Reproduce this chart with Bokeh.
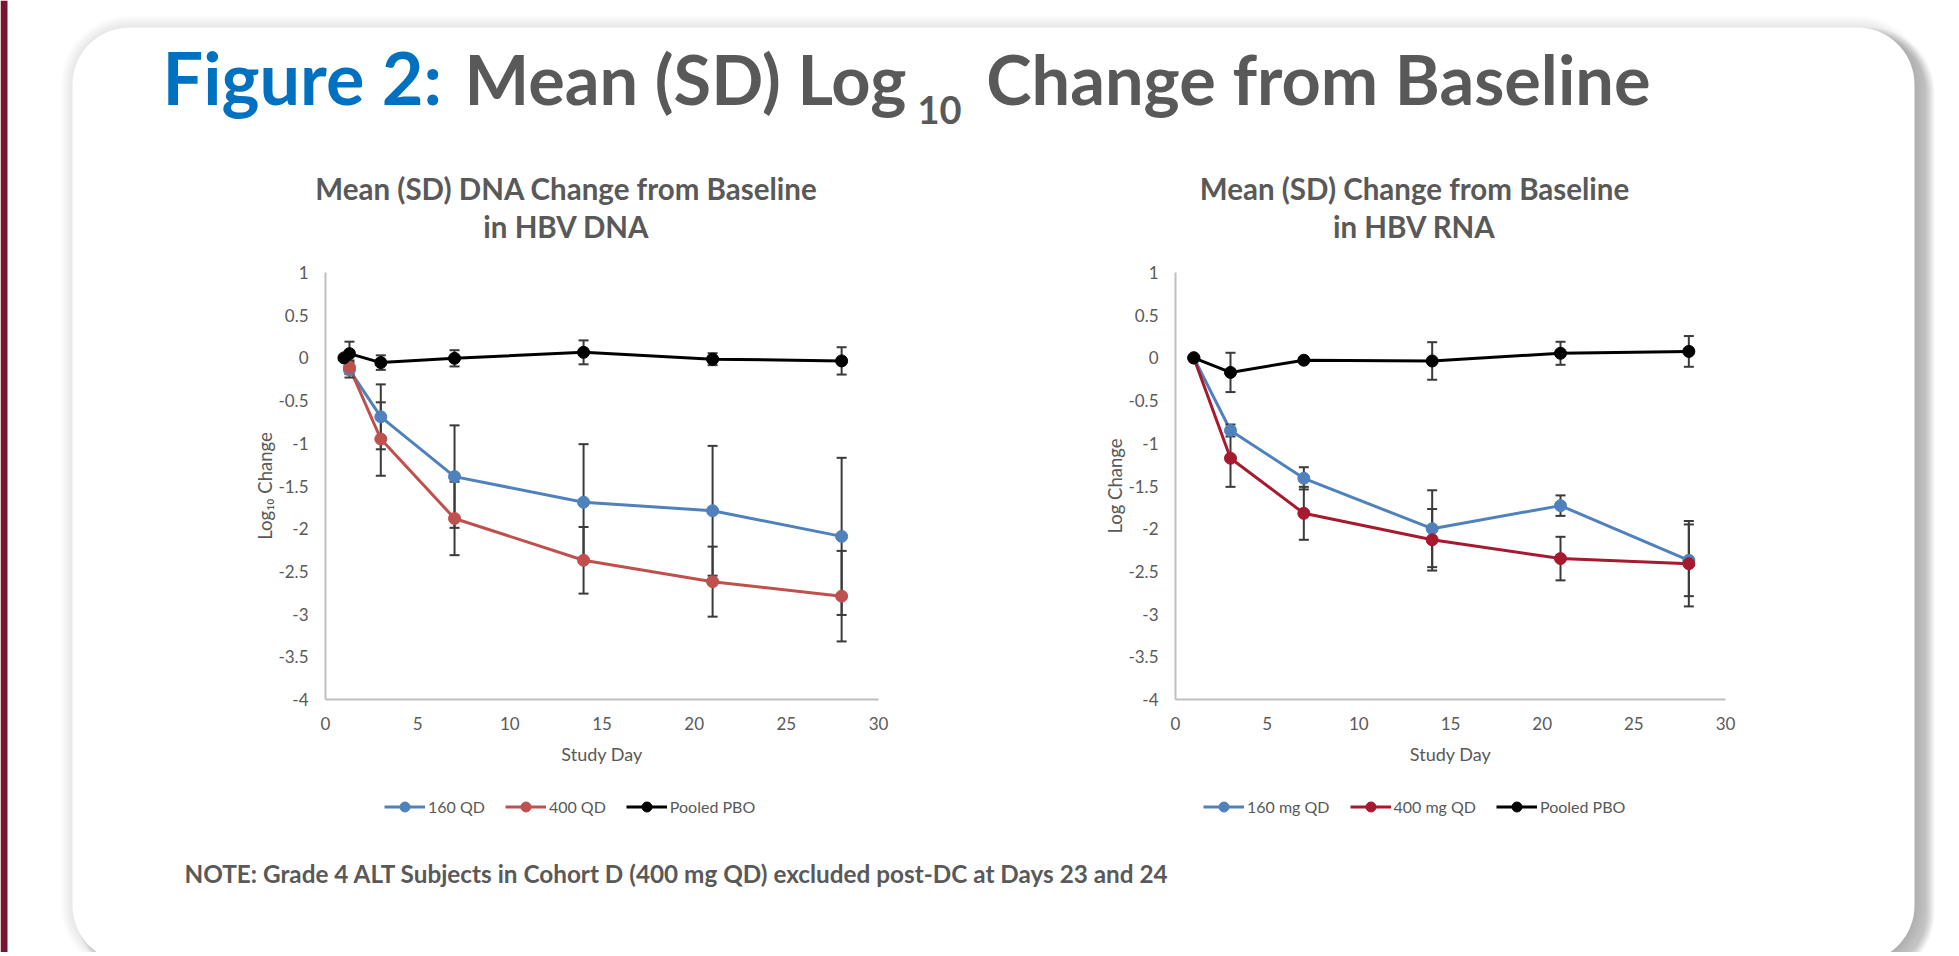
import numpy as np
from bokeh.plotting import figure
from bokeh.models import Range1d, FixedTicker, Legend, LegendItem, Label, LinearAxis
from bokeh.embed import file_html
from bokeh.resources import INLINE
from bokeh.core.properties import value

# ---------------- data ----------------
x_ticks = [0, 5, 10, 15, 20, 25, 30]
x_tick_labels = ["0", "5", "10", "15", "20", "25", "30"]
y_ticks = [1, 0.5, 0, -0.5, -1, -1.5, -2, -2.5, -3, -3.5, -4]
y_tick_labels = ["1", "0.5", "0", "-0.5", "-1", "-1.5", "-2", "-2.5", "-3", "-3.5", "-4"]

# HBV DNA
dna_days_active = [1.3, 3, 7, 14, 21, 28]
dna_160_mean = [-0.14, -0.69, -1.39, -1.69, -1.79, -2.09]
dna_160_sd = [0.09, 0.38, 0.60, 0.68, 0.76, 0.92]
dna_400_mean = [-0.11, -0.95, -1.88, -2.37, -2.62, -2.79]
dna_400_sd = [0.08, 0.43, 0.43, 0.39, 0.41, 0.53]
dna_pbo_days = [1, 1.3, 3, 7, 14, 21, 28]
dna_pbo_mean = [0.0, 0.05, -0.055, -0.005, 0.065, -0.015, -0.035]
dna_pbo_sd = [0.0, 0.14, 0.085, 0.095, 0.14, 0.07, 0.16]
dna_labels = ["160 QD", "400 QD", "Pooled PBO"]

# HBV RNA
rna_days = [1, 3, 7, 14, 21, 28]
rna_160_mean = [0.0, -0.85, -1.41, -2.0, -1.73, -2.37]
rna_160_sd = [0.0, 0.07, 0.13, 0.45, 0.12, 0.42]
rna_400_mean = [0.0, -1.175, -1.82, -2.13, -2.35, -2.41]
rna_400_sd = [0.0, 0.335, 0.31, 0.36, 0.255, 0.5]
rna_pbo_mean = [0.0, -0.17, -0.027, -0.036, 0.054, 0.076]
rna_pbo_sd = [0.0, 0.23, 0.03, 0.22, 0.135, 0.18]
rna_labels = ["160 mg QD", "400 mg QD", "Pooled PBO"]

# ---------------- style / layout ----------------
FONT = "Lato"
GRAY = "#595959"
BLUE = "#4F81BD"
RED_DNA = "#C0504D"
RED_RNA = "#A6192E"
BAR = "#3A3A3A"
MAROON = "#7A1530"

W, H = 1955, 952
PLOT_TOP, PLOT_BOT = 272, 699           # page pixels of y = 1 and y = -4
L_FRAME = (325, 878)                    # page pixels of x = 0 and x = 30, left chart
R_FRAME = (1175, 1725)                  # same, right chart
PL, PR, PT, PB, RAD = 72, 1914, 27, 962, 57

xmin, xmax = x_ticks[0], x_ticks[-1]
ymin, ymax = y_ticks[-1], y_ticks[0]


def xrange_for(frame):
    ppx = (frame[1] - frame[0]) / (xmax - xmin)
    return Range1d(xmin - frame[0] / ppx, xmin + (W - frame[0]) / ppx)


ppy = (PLOT_BOT - PLOT_TOP) / (ymax - ymin)
p = figure(width=W, height=H, x_range=xrange_for(L_FRAME),
           y_range=Range1d(ymax - (H - PLOT_TOP) / ppy, ymax + PLOT_TOP / ppy),
           min_border=0, toolbar_location=None, title=None, output_backend="svg",
           outline_line_color=None, background_fill_color="white", border_fill_color="white")
p.extra_x_ranges = {"r": xrange_for(R_FRAME), "px": Range1d(0, W)}
p.extra_y_ranges = {"py": Range1d(H, 0)}
p.grid.visible = False
PX = dict(x_range_name="px", y_range_name="py")


# ---------------- slide background ----------------
def rrect(l, r, t, b, rad, n=18):
    xs, ys = [], []
    for cx, cy, a0 in ((l + rad, t + rad, np.pi), (r - rad, t + rad, 1.5 * np.pi),
                       (r - rad, b - rad, 0.0), (l + rad, b - rad, 0.5 * np.pi)):
        th = np.linspace(a0, a0 + 0.5 * np.pi, n)
        xs.extend(cx + rad * np.cos(th))
        ys.extend(cy + rad * np.sin(th))
    return xs, ys


p.quad(left=[0], right=[7], top=[0], bottom=[H], fill_color=MAROON, line_color=None, **PX)
for k in range(1, 13):
    xs, ys = rrect(PL - k, PR + k, PT - k, PB + k, RAD + k)
    p.patch(xs, ys, fill_color="black", fill_alpha=0.008, line_color=None, **PX)
for k in range(0, 9):
    xs, ys = rrect(PL + 12 - k, PR + 12 + k, PT + 8 - k, PB + 8 + k, RAD + k)
    p.patch(xs, ys, fill_color="black", fill_alpha=0.026, line_color=None, **PX)
xs, ys = rrect(PL, PR, PT, PB, RAD)
p.patch(xs, ys, fill_color="white", line_color=None, **PX)


def txt(x, y, s, size, color=GRAY, style="bold", align="left"):
    # y is the baseline in page pixels
    p.text(x=[x], y=[y - 0.39 * size], text=[s], text_font=value(FONT), text_font_size=f"{size}px",
           text_font_style=style, text_color=color, text_align=align, text_baseline="middle", **PX)


txt(162, 105, "Figure 2:", 72, color="#0070C0")
txt(906, 105, "Mean (SD) Log", 68.5, align="right")
txt(917, 124, "10", 38)
txt(1650, 105, "Change from Baseline", 68.5, align="right")
txt(566, 200, "Mean (SD) DNA Change from Baseline", 29.5, align="center")
txt(566, 238, "in HBV DNA", 29.5, align="center")
txt(1414, 200, "Mean (SD) Change from Baseline", 29.5, align="center")
txt(1414, 238, "in HBV RNA", 29.5, align="center")
txt(184, 882, "NOTE: Grade 4 ALT Subjects in Cohort D (400 mg QD) excluded post-DC at Days 23 and 24", 24.3)


# ---------------- axes ----------------
def style_axis(ax):
    ax.axis_line_color = "#BFBFBF"
    ax.axis_line_width = 2
    ax.major_tick_in = 0
    ax.major_tick_out = 0
    ax.minor_tick_line_color = None
    ax.major_tick_line_color = None
    ax.major_label_text_font = FONT
    ax.major_label_text_font_size = "17px"
    ax.major_label_text_color = GRAY
    ax.major_label_standoff = 17


def make_axes(xr_name, xaxis=None, yaxis=None):
    if xaxis is None:
        xaxis = LinearAxis(x_range_name=xr_name)
        p.add_layout(xaxis, "below")
    if yaxis is None:
        yaxis = LinearAxis(x_range_name=xr_name)
        p.add_layout(yaxis, "left")
    xaxis.ticker = FixedTicker(ticks=x_ticks)
    xaxis.major_label_overrides = dict(zip(x_ticks, x_tick_labels))
    xaxis.fixed_location = ymin
    xaxis.bounds = (xmin, xmax)
    yaxis.ticker = FixedTicker(ticks=y_ticks)
    yaxis.major_label_overrides = dict(zip(y_ticks, y_tick_labels))
    yaxis.fixed_location = xmin
    yaxis.bounds = (ymin, ymax)
    style_axis(xaxis)
    style_axis(yaxis)


make_axes("default", p.xaxis[0], p.yaxis[0])
make_axes("r")


# ---------------- charts ----------------
def chart(xr_name, series, ylabel, labels, leg_left):
    kw = dict(x_range_name=xr_name)
    p.add_layout(Label(x=(xmin + xmax) / 2, y=ymin, y_offset=-54, text="Study Day",
                       text_align="center", text_baseline="middle", text_font=FONT,
                       text_font_size="18px", text_color=GRAY, **kw))
    p.add_layout(Label(x=xmin, y=(ymin + ymax) / 2, x_offset=-61, text=ylabel, angle=90,
                       angle_units="deg", text_align="center", text_baseline="middle",
                       text_font=FONT, text_font_size="18.5px", text_color=GRAY, **kw))
    lines = [p.line(x=xs, y=m, line_color=c, line_width=3, **kw) for xs, m, s, c in series]
    for xs, m, s, c in series:
        lo = [a - b for a, b in zip(m, s)]
        hi = [a + b for a, b in zip(m, s)]
        p.segment(x0=xs, y0=lo, x1=xs, y1=hi, line_color=BAR, line_width=2, **kw)
        p.scatter(x=xs, y=lo, marker="dash", size=10, line_color=BAR, line_width=2, **kw)
        p.scatter(x=xs, y=hi, marker="dash", size=10, line_color=BAR, line_width=2, **kw)
    marks = [p.scatter(x=xs, y=m, size=12, fill_color=c, line_color=c, **kw) for xs, m, s, c in series]
    items = [LegendItem(label=lab, renderers=[l, mk]) for lab, l, mk in zip(labels, lines, marks)]
    leg = Legend(items=items, location=(leg_left, H - 806 - 12.5), orientation="horizontal",
                 glyph_width=41, glyph_height=25, label_standoff=3, spacing=20, padding=0, margin=0,
                 border_line_color=None, background_fill_alpha=0,
                 label_text_font=FONT, label_text_font_size="16px", label_text_color=GRAY)
    p.add_layout(leg)


chart("default", [
    (dna_days_active, dna_160_mean, dna_160_sd, BLUE),
    (dna_days_active, dna_400_mean, dna_400_sd, RED_DNA),
    (dna_pbo_days, dna_pbo_mean, dna_pbo_sd, "black"),
], "Log\u2081\u2080 Change", dna_labels, 384)

chart("r", [
    (rna_days, rna_160_mean, rna_160_sd, BLUE),
    (rna_days, rna_400_mean, rna_400_sd, RED_RNA),
    (rna_days, rna_pbo_mean, rna_pbo_sd, "black"),
], "Log Change", rna_labels, 1203)

open("out.html", "w").write(file_html(p, INLINE))
